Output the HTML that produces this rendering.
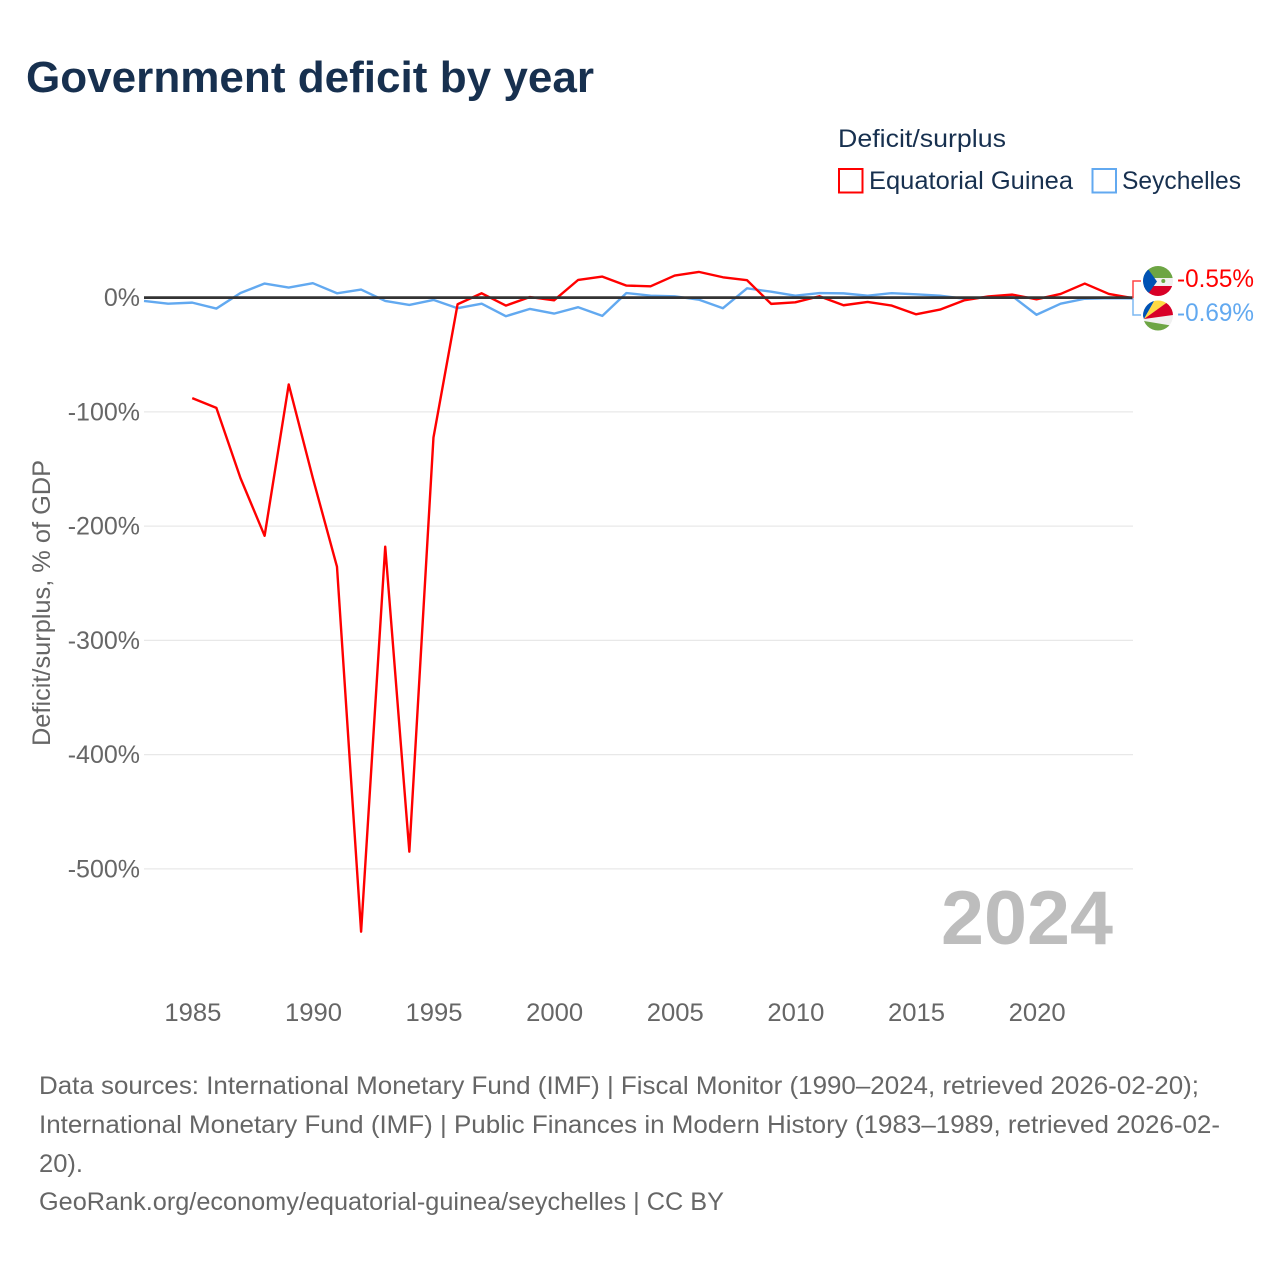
<!DOCTYPE html>
<html lang="en">
<head>
<meta charset="utf-8">
<title>Government deficit by year</title>
<style>
html,body{margin:0;padding:0;background:#fff}
svg{display:block}
text{font-family:"Liberation Sans",sans-serif}
</style>
</head>
<body>
<svg id="chart" xmlns="http://www.w3.org/2000/svg" width="1280" height="1280" viewBox="0 0 1280 1280">
  <text x="26" y="92" font-size="44" font-weight="700" fill="#17304f" textLength="568" lengthAdjust="spacingAndGlyphs">Government deficit by year</text>
  <text x="838" y="147" font-size="25" fill="#17304f" textLength="168" lengthAdjust="spacingAndGlyphs">Deficit/surplus</text>
  <rect x="839" y="169" width="23.5" height="23.5" fill="none" stroke="#ff0000" stroke-width="2"/>
  <text x="869" y="189" font-size="25" fill="#17304f" textLength="204" lengthAdjust="spacingAndGlyphs">Equatorial Guinea</text>
  <rect x="1092.500" y="169" width="23.5" height="23.5" fill="none" stroke="#62a9f0" stroke-width="2"/>
  <text x="1122" y="189" font-size="25" fill="#17304f" textLength="119" lengthAdjust="spacingAndGlyphs">Seychelles</text>

  <text transform="translate(50,603) rotate(-90)" text-anchor="middle" font-size="25" fill="#666" textLength="286" lengthAdjust="spacingAndGlyphs">Deficit/surplus, % of GDP</text>

  <g id="grid"></g>
  <g id="ytick-labels"></g>
  <g id="xtick-labels"></g>

  <text x="1113" y="944" text-anchor="end" font-size="76" font-weight="700" fill="#bdbdbd" textLength="172" lengthAdjust="spacingAndGlyphs">2024</text>

  <g id="series"></g>
  <line id="zero-line" stroke="#333" stroke-width="2.8"/>
  <path id="connector-eg" fill="none" stroke="#ff4444" stroke-width="1.5"/>
  <path id="connector-sc" fill="none" stroke="#7db8f2" stroke-width="1.5"/>

  <defs>
    <clipPath id="clip-eg"><circle cx="1158" cy="281" r="15"/></clipPath>
    <clipPath id="clip-sc"><circle cx="1158" cy="315.500" r="15"/></clipPath>
  </defs>
  <g clip-path="url(#clip-eg)">
    <rect x="1143" y="265" width="31" height="13" fill="#6da544"/>
    <rect x="1143" y="278" width="31" height="8" fill="#f0f0f0"/>
    <rect x="1143" y="286" width="31" height="11" fill="#d80027"/>
    <polygon points="1143,262 1157,281.500 1143,301" fill="#0052b4"/>
    <circle cx="1163.300" cy="281" r="2" fill="#6da544"/>
  </g>
  <g clip-path="url(#clip-sc)">
    <rect x="1143" y="300" width="31" height="31" fill="#f0f0f0"/>
    <polygon points="1144,319 1136,296 1157,296" fill="#0052b4"/>
    <polygon points="1144,319 1157,296 1176,296" fill="#ffda44"/>
    <polygon points="1144,319 1176,296 1180,314" fill="#d80027"/>
    <polygon points="1144,321 1180,327 1180,334 1144,334" fill="#6da544"/>
  </g>
  <text x="1177" y="287" font-size="25" fill="#ff0000" textLength="77" lengthAdjust="spacingAndGlyphs">-0.55%</text>
  <text x="1177" y="321" font-size="25" fill="#62a9f0" textLength="77" lengthAdjust="spacingAndGlyphs">-0.69%</text>

  <text x="39" y="1094" font-size="25" fill="#666" textLength="1160" lengthAdjust="spacingAndGlyphs">Data sources: International Monetary Fund (IMF) | Fiscal Monitor (1990–2024, retrieved 2026-02-20);</text>
  <text x="39" y="1133" font-size="25" fill="#666" textLength="1181" lengthAdjust="spacingAndGlyphs">International Monetary Fund (IMF) | Public Finances in Modern History (1983–1989, retrieved 2026-02-</text>
  <text x="39" y="1172" font-size="25" fill="#666" textLength="44" lengthAdjust="spacingAndGlyphs">20).</text>
  <text x="39" y="1210" font-size="25" fill="#666" textLength="685" lengthAdjust="spacingAndGlyphs">GeoRank.org/economy/equatorial-guinea/seychelles | CC BY</text>
</svg>
<script>
const seychellesYears = [1983,1984,1985,1986,1987,1988,1989,1990,1991,1992,1993,1994,1995,1996,1997,1998,1999,2000,2001,2002,2003,2004,2005,2006,2007,2008,2009,2010,2011,2012,2013,2014,2015,2016,2017,2018,2019,2020,2021,2022,2023,2024];
const seychellesValues = [-2.9,-5.3,-4.4,-9.6,4,12.3,8.8,12.6,3.8,7,-2.9,-6.4,-2,-9.3,-5.3,-16.3,-9.9,-14,-8.4,-16,4,1.7,1.1,-1.8,-9.3,8.1,5.2,1.7,4,3.7,1.7,3.9,2.9,1.7,-0.9,0.3,1.2,-15,-5.3,-1,-0.5,-0.69];
const guineaYears = [1985,1986,1987,1988,1989,1990,1991,1992,1993,1994,1995,1996,1997,1998,1999,2000,2001,2002,2003,2004,2005,2006,2007,2008,2009,2010,2011,2012,2013,2014,2015,2016,2017,2018,2019,2020,2021,2022,2023,2024];
const guineaValues = [-88,-96.5,-158,-208.5,-76,-158,-235.5,-555,-218,-485,-122.5,-5.8,3.8,-7,0.5,-2.4,15.5,18.4,10.5,9.9,19.3,22.5,17.8,15.2,-5.5,-4.1,1.2,-6.7,-3.8,-7,-14.6,-10.5,-2.4,1,2.6,-1.5,3.2,12.3,3.2,-0.55];
const yTickValues = [0,-100,-200,-300,-400,-500];
const xTickValues = [1985,1990,1995,2000,2005,2010,2015,2020];

const NS = 'http://www.w3.org/2000/svg';
const xMin = 1983, xMax = 2024, plotLeft = 144, plotRight = 1133;
const zeroY = 297.6, pxPerPct = 1.1425;
function xScale(year){ return plotLeft + (year - xMin) * (plotRight - plotLeft) / (xMax - xMin); }
function yScale(v){ return zeroY - v * pxPerPct; }

const grid = document.getElementById('grid');
const yLabels = document.getElementById('ytick-labels');
const xLabels = document.getElementById('xtick-labels');
const seriesGroup = document.getElementById('series');

yTickValues.forEach(function(v){
  if (v !== 0) {
    const gl = document.createElementNS(NS, 'line');
    
    
    gl.setAttribute('x1', plotLeft);
    gl.setAttribute('x2', plotRight);
    gl.setAttribute('y1', yScale(v));
    gl.setAttribute('y2', yScale(v));
    gl.setAttribute('stroke', '#e8e8e8');
    gl.setAttribute('stroke-width', '1.2');
    grid.appendChild(gl);
  }
  const t = document.createElementNS(NS, 'text');
  
  
  t.setAttribute('x', 140);
  t.setAttribute('y', yScale(v) + 8.4);
  t.setAttribute('text-anchor', 'end');
  t.setAttribute('font-size', '25');
  t.setAttribute('fill', '#666');
  t.textContent = v + '%';
  yLabels.appendChild(t);
});

xTickValues.forEach(function(y){
  const t = document.createElementNS(NS, 'text');
  
  
  t.setAttribute('x', xScale(y) + 0.6);
  t.setAttribute('y', 1021);
  t.setAttribute('text-anchor', 'middle');
  t.setAttribute('font-size', '25');
  t.setAttribute('fill', '#666');
  t.setAttribute('textLength', '57');
  t.setAttribute('lengthAdjust', 'spacingAndGlyphs');
  t.textContent = y;
  xLabels.appendChild(t);
});

function linePath(years, values){
  return years.map(function(y, i){
    return (i ? 'L' : 'M') + xScale(y).toFixed(2) + ' ' + yScale(values[i]).toFixed(2);
  }).join(' ');
}

const seychellesLine = document.createElementNS(NS, 'path');


seychellesLine.setAttribute('d', linePath(seychellesYears, seychellesValues));
seychellesLine.setAttribute('fill', 'none');
seychellesLine.setAttribute('stroke', '#62a9f0');
seychellesLine.setAttribute('stroke-width', '2.4');
seychellesLine.setAttribute('stroke-linejoin', 'round');
seriesGroup.appendChild(seychellesLine);

const guineaLine = document.createElementNS(NS, 'path');


guineaLine.setAttribute('d', linePath(guineaYears, guineaValues));
guineaLine.setAttribute('fill', 'none');
guineaLine.setAttribute('stroke', '#ff0000');
guineaLine.setAttribute('stroke-width', '2.4');
guineaLine.setAttribute('stroke-linejoin', 'round');
seriesGroup.appendChild(guineaLine);

const zero = document.getElementById('zero-line');
zero.setAttribute('x1', plotLeft);
zero.setAttribute('x2', plotRight);
zero.setAttribute('y1', yScale(0));
zero.setAttribute('y2', yScale(0));

const endX = xScale(xMax);
const egEndY = yScale(guineaValues[guineaValues.length - 1]);
const scEndY = yScale(seychellesValues[seychellesValues.length - 1]);
document.getElementById('connector-eg').setAttribute('d', 'M' + endX + ' ' + egEndY + ' V281 H1141');
document.getElementById('connector-sc').setAttribute('d', 'M' + endX + ' ' + scEndY + ' V315 H1141');
</script>
</body>
</html>
